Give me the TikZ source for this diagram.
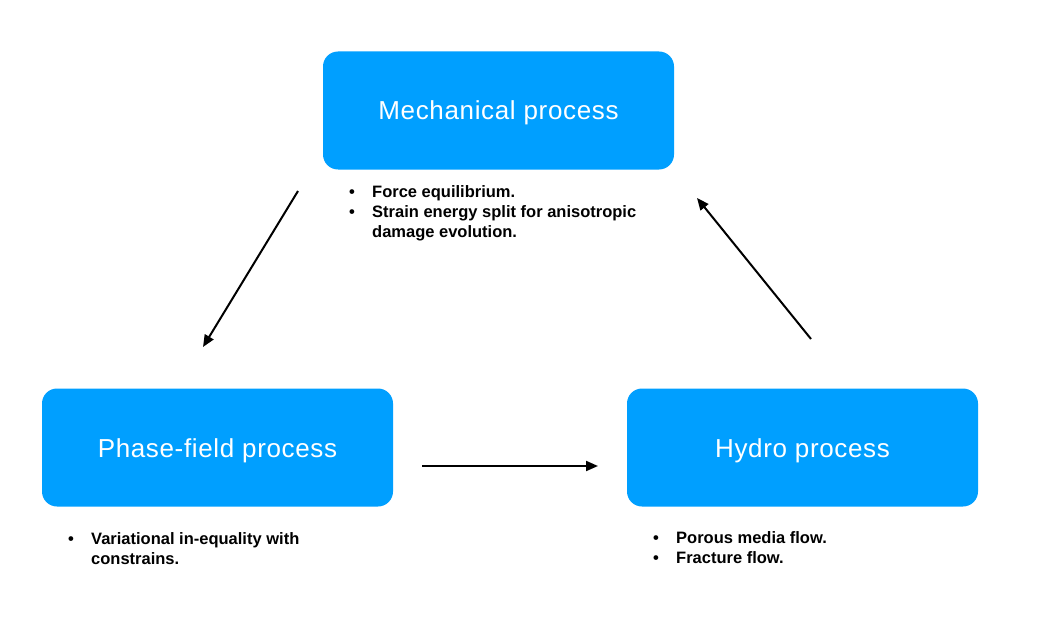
\documentclass[tikz,border=0pt]{standalone}
\usepackage{fontspec}
\setmainfont{Liberation Sans}
\usetikzlibrary{arrows.meta}
\definecolor{procblue}{RGB}{0,159,255}
\newcommand{\bt}{\makebox[23pt][l]{\textbullet}}
\tikzset{
  proc/.style={draw=none, fill=procblue, rounded corners=15pt, minimum width=351pt,
    minimum height=118pt, text=white, inner sep=0pt, text height=19pt, text depth=0pt,
    font=\fontsize{26}{30}\selectfont\addfontfeature{LetterSpace=2.5}},
  bul/.style={inner sep=0pt, anchor=base west, font=\fontsize{16.5}{20}\selectfont\bfseries},
  flow/.style={line width=2pt, -{Triangle[length=12pt,width=10pt]}}
}
\begin{document}
\begin{tikzpicture}[x=1pt,y=-1pt]
\fill[white] (0,0) rectangle (1060,623);
\useasboundingbox (0,0) rectangle (1060,623);
\node[proc] (mech) at (498.5,110.5) {Mechanical process};
\node[proc] (phase) at (217.5,447.5) {Phase-field process};
\node[proc] (hydro) at (802.5,447.5) {Hydro process};
\node[bul] (mtxt) at (349,197.5) {\begin{tabular}[t]{@{}l@{}}\bt Force equilibrium.\\ \bt Strain energy split for anisotropic\\ \hspace*{23pt}damage evolution.\end{tabular}};
\node[bul] (ptxt) at (68,544) {\begin{tabular}[t]{@{}l@{}}\bt Variational in-equality with\\ \hspace*{23pt}constrains.\end{tabular}};
\node[bul] (htxt) at (653,543.5) {\begin{tabular}[t]{@{}l@{}}\bt Porous media flow.\\ \bt Fracture flow.\end{tabular}};
\coordinate (a1s) at (298,191);
\coordinate (a1e) at (203,347);
\coordinate (a2s) at (422,466);
\coordinate (a2e) at (598,466);
\coordinate (a3s) at (811,339);
\coordinate (a3e) at (697,198);
\draw[flow] (a1s) -- (a1e);
\draw[flow] (a2s) -- (a2e);
\draw[flow] (a3s) -- (a3e);
\end{tikzpicture}
\end{document}
